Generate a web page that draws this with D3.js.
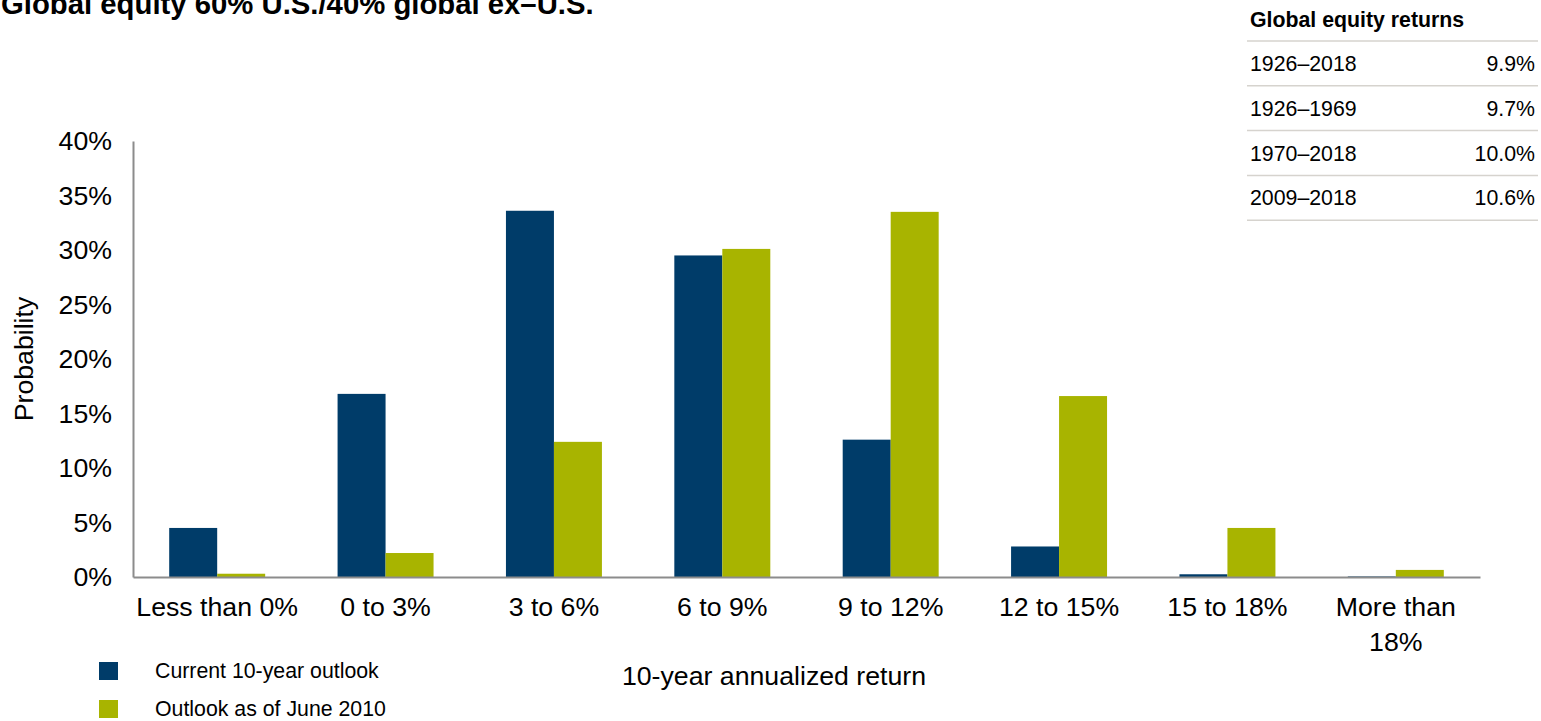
<!DOCTYPE html>
<html>
<head>
<meta charset="utf-8">
<script src="https://cdn.jsdelivr.net/npm/d3@7"></script>
<style>
  body { margin: 0; background: #fff; font-family: Arial, "Liberation Sans", sans-serif; }
  svg text { fill: #000; }
</style>
</head>
<body>
<svg id="chart"></svg>
<script>
// data
var categories = ["Less than 0%", "0 to 3%", "3 to 6%", "6 to 9%", "9 to 12%", "12 to 15%", "15 to 18%", "More than 18%"];
var currentOutlook = [4.5, 16.8, 33.6, 29.5, 12.6, 2.8, 0.25, 0.05];
var outlook2010 = [0.3, 2.2, 12.4, 30.1, 33.5, 16.6, 4.5, 0.65];
var yTicks = [0, 5, 10, 15, 20, 25, 30, 35, 40];
var seriesNames = ["Current 10-year outlook", "Outlook as of June 2010"];
var tablePeriods = ["1926–2018", "1926–1969", "1970–2018", "2009–2018"];
var tableReturns = ["9.9%", "9.7%", "10.0%", "10.6%"];

var BLUE = "#003c69", GREEN = "#a8b400";
var FONT = "Arial, 'Liberation Sans', sans-serif";

var width = 1541, height = 721;
var svg = d3.select("#chart").attr("width", width).attr("height", height);

var margin = {left: 133, right: 61, top: 141, bottom: 144};
var plotW = width - margin.left - margin.right,
    plotH = height - margin.top - margin.bottom;

var g = svg.append("g")
    .attr("transform", "translate(" + margin.left + "," + margin.top + ")");

var x = d3.scaleBand().domain(categories).range([0, plotW]).paddingInner(0.43).paddingOuter(0.215);
var y = d3.scaleLinear().domain([0, 40]).range([plotH, 0]);

// bars
var sets = [currentOutlook, outlook2010];
var colors = [BLUE, GREEN];
sets.forEach(function(vals, si) {
  g.selectAll(".bar" + si)
    .data(vals)
    .enter().append("rect")
    .attr("class", "bar" + si)
    .attr("x", function(d, i) { return x(categories[i]) + si * x.bandwidth() / 2; })
    .attr("y", function(d) { return y(d); })
    .attr("width", x.bandwidth() / 2)
    .attr("height", function(d) { return plotH - y(d); })
    .attr("fill", colors[si]);
});

// y axis
var yAxis = d3.axisLeft(y).tickValues(yTicks).tickSize(0).tickPadding(21)
    .tickFormat(function(d) { return d + "%"; });
var ya = g.append("g").call(yAxis);
ya.select(".domain").attr("stroke", "#8c8c8c").attr("stroke-width", 2);
ya.selectAll("text").attr("font-size", 26.7).attr("font-family", FONT).attr("fill", "#000");

// x axis
var xAxis = d3.axisBottom(x).tickSize(0).tickPadding(20);
var xa = g.append("g").attr("transform", "translate(0," + plotH + ")").call(xAxis);
xa.select(".domain").attr("stroke", "#8c8c8c").attr("stroke-width", 2);
xa.selectAll("text")
  .attr("font-size", 26.7)
  .attr("font-family", FONT)
  .attr("fill", "#000")
  .each(function(d) {
    if (d === "More than 18%") {
      var t = d3.select(this).text(null);
      t.append("tspan").attr("x", 0).text("More than");
      t.append("tspan").attr("x", 0).attr("dy", "1.3em").text("18%");
    }
  });

// axis titles
svg.append("text")
  .attr("transform", "translate(33," + (margin.top + plotH / 2) + ") rotate(-90)")
  .attr("text-anchor", "middle")
  .attr("font-size", 26.7)
  .text("Probability");

svg.append("text")
  .attr("x", 774).attr("y", 685)
  .attr("text-anchor", "middle")
  .attr("font-size", 26.7)
  .text("10-year annualized return");

// title
svg.append("text")
  .attr("x", 1).attr("y", 14)
  .attr("font-size", 29.3).attr("font-weight", "bold")
  .text("Global equity 60% U.S./40% global ex–U.S.");

// legend
var legend = svg.selectAll(".legend")
  .data(seriesNames)
  .enter().append("g")
  .attr("class", "legend")
  .attr("transform", function(d, i) { return "translate(99," + (662 + i * 38) + ")"; });
legend.append("rect").attr("width", 19).attr("height", 18)
  .attr("fill", function(d, i) { return colors[i]; });
legend.append("text").attr("x", 56).attr("y", 16).attr("font-size", 21.3)
  .text(function(d) { return d; });

// returns table
var tbl = svg.append("g").attr("transform", "translate(1249,0)");
tbl.append("text").attr("x", 1).attr("y", 27).attr("font-size", 21.3).attr("font-weight", "bold")
  .text("Global equity returns");
var rowH = 44.8;
tbl.selectAll(".rule")
  .data(d3.range(tablePeriods.length + 1))
  .enter().append("line")
  .attr("x1", -2).attr("x2", 289)
  .attr("y1", function(i) { return 41 + i * rowH; })
  .attr("y2", function(i) { return 41 + i * rowH; })
  .attr("stroke", "#d6d3ce").attr("stroke-width", 1.5);
tbl.selectAll(".period")
  .data(tablePeriods)
  .enter().append("text")
  .attr("x", 1).attr("y", function(d, i) { return 71 + i * rowH; })
  .attr("font-size", 21.3).text(function(d) { return d; });
tbl.selectAll(".ret")
  .data(tableReturns)
  .enter().append("text")
  .attr("x", 286).attr("y", function(d, i) { return 71 + i * rowH; })
  .attr("text-anchor", "end")
  .attr("font-size", 21.3).text(function(d) { return d; });
</script>
</body>
</html>
